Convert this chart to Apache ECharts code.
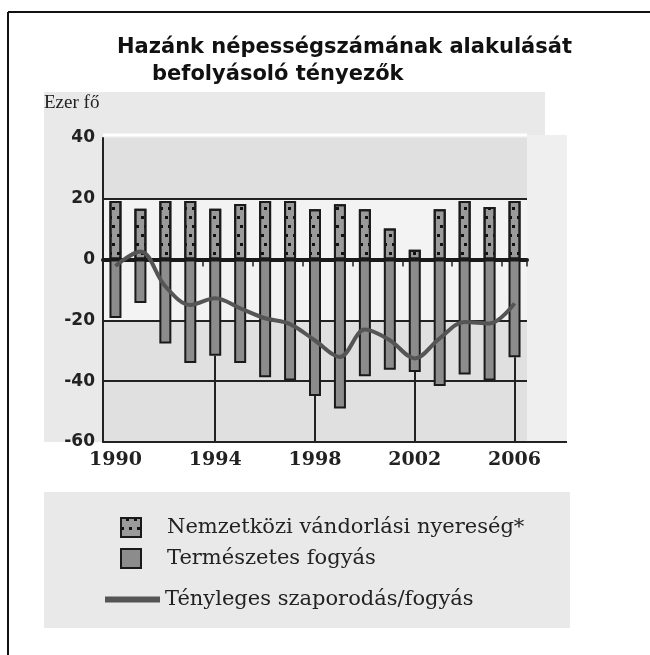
<!DOCTYPE html>
<html>
<head>
<meta charset="utf-8">
<script src="https://cdn.jsdelivr.net/npm/echarts@6/dist/echarts.min.js"></script>
<style>
html,body{margin:0;padding:0;background:#fff;}
#chart{width:650px;height:655px;}
</style>
</head>
<body>
<div id="chart"></div>
<script>
const years = ['1990','1991','1992','1993','1994','1995','1996','1997','1998','1999','2000','2001','2002','2003','2004','2005','2006'];
const migration = [19.3, 16.7, 19.3, 19.3, 16.7, 18.3, 19.3, 19.3, 16.6, 18.2, 16.6, 10.2, 3.2, 16.6, 19.3, 17.3, 19.3];
const natural = [-19.2, -14.3, -27.6, -34.0, -31.6, -34.0, -38.7, -39.8, -44.9, -49.0, -38.4, -36.2, -37.0, -41.6, -37.8, -39.8, -32.1];
const actual = [-2.1, 2.7, -8.8, -14.9, -12.7, -16.0, -19.3, -21.2, -26.6, -32.0, -23.0, -26.5, -32.5, -25.9, -20.5, -21.0, -14.4];
const yTicks = {min: -60, max: 40, interval: 20};
const names = ['Nemzetközi vándorlási nyereség*', 'Természetes fogyás', 'Tényleges szaporodás/fogyás'];
const titleLines = ['Hazánk népességszámának alakulását', 'befolyásoló tényezők'];
const unitLabel = 'Ezer fő';

const chart = echarts.init(document.getElementById('chart'), null, {renderer: 'canvas'});

const vLines = [];
years.forEach((y, i) => {
  if (i > 0 && i % 4 === 0) {
    vLines.push([{coord: [i, yTicks.min]}, {coord: [i, natural[i]]}]);
  }
});

const legendCommon = {
  orient: 'horizontal',
  selectedMode: false,
  textStyle: {fontFamily: 'DejaVu Serif', fontSize: 20, color: '#222'}
};

chart.setOption({
  backgroundColor: '#ffffff',
  animation: false,
  title: [
    {text: titleLines[0], left: 112, top: 32, textStyle: {fontFamily: 'DejaVu Sans', fontWeight: 'bold', fontSize: 21, color: '#111'}},
    {text: titleLines[1], left: 147, top: 59, textStyle: {fontFamily: 'DejaVu Sans', fontWeight: 'bold', fontSize: 21, color: '#111'}}
  ],
  graphic: [
    {type: 'line', shape: {x1: 8, y1: 12, x2: 650, y2: 12}, style: {stroke: '#111', lineWidth: 2}, z: -5},
    {type: 'line', shape: {x1: 8, y1: 12, x2: 8, y2: 655}, style: {stroke: '#111', lineWidth: 2}, z: -5},
    {type: 'rect', shape: {x: 44, y: 92, width: 501, height: 350}, style: {fill: '#e9e9e9'}, z: -10},
    {type: 'rect', shape: {x: 527, y: 135, width: 40, height: 307}, style: {fill: '#efefef'}, z: -9},
    {type: 'rect', shape: {x: 44, y: 492, width: 526, height: 136}, style: {fill: '#e9e9e9'}, z: -10},
    {type: 'line', shape: {x1: 103, y1: 135, x2: 527, y2: 135}, style: {stroke: '#ffffff', lineWidth: 3}, z: -8},
    {type: 'line', shape: {x1: 527, y1: 442, x2: 567, y2: 442}, style: {stroke: '#222', lineWidth: 2}},
    {type: 'text', left: 44, top: 94, style: {text: unitLabel, fontFamily: 'Liberation Serif', fontSize: 19, fill: '#222'}}
  ],
  legend: [
    Object.assign({}, legendCommon, {data: [{name: names[0], icon: 'rect'}], left: 115, top: 512, itemWidth: 20, itemHeight: 19, textStyle: Object.assign({}, legendCommon.textStyle, {fontSize: 21, padding: [0, 0, 0, 21]})}),
    Object.assign({}, legendCommon, {data: [{name: names[1], icon: 'rect'}], left: 115, top: 543, itemWidth: 20, itemHeight: 19, textStyle: Object.assign({}, legendCommon.textStyle, {fontSize: 21, padding: [0, 0, 0, 21]})}),
    Object.assign({}, legendCommon, {data: [{name: names[2], icon: 'rect'}], left: 100, top: 584, itemWidth: 55, itemHeight: 6, textStyle: Object.assign({}, legendCommon.textStyle, {fontSize: 21})})
  ],
  grid: {left: 103, right: 123, top: 138, bottom: 213, containLabel: false},
  xAxis: [
    {
      type: 'category', data: years, position: 'bottom',
      axisLine: {onZero: false, lineStyle: {color: '#222', width: 2}},
      axisTick: {show: false},
      axisLabel: {interval: 3, margin: 9, fontFamily: 'DejaVu Serif', fontWeight: 'bold', fontSize: 19, color: '#222'},
      splitLine: {show: false}
    },
    {
      type: 'category', data: years, position: 'top',
      axisLine: {onZero: true, lineStyle: {color: '#1a1a1a', width: 4}},
      axisTick: {show: true, inside: true, length: 7, lineStyle: {color: '#222', width: 1.5}},
      axisLabel: {show: false},
      splitLine: {show: false}
    }
  ],
  yAxis: {
    type: 'value', min: yTicks.min, max: yTicks.max, interval: yTicks.interval,
    axisLine: {show: true, lineStyle: {color: '#222', width: 2}},
    axisTick: {show: false},
    axisLabel: {margin: 8, fontFamily: 'DejaVu Sans', fontWeight: 'bold', fontSize: 17, color: '#222'},
    splitLine: {show: true, lineStyle: {color: ['rgba(0,0,0,0)', '#222', '#222', 'rgba(0,0,0,0)', '#222', 'rgba(0,0,0,0)'], width: 2}},
    splitArea: {show: true, areaStyle: {color: ['#e0e0e0', '#e0e0e0', '#f3f3f3', '#f3f3f3', '#e0e0e0']}}
  },
  series: [
    {
      name: names[0], type: 'bar', stack: 'total', data: migration, barWidth: 12,
      itemStyle: {
        color: '#9a9a9a', borderColor: '#1a1a1a', borderWidth: 2,
        decal: {symbol: 'rect', symbolSize: 1, color: '#111', dashArrayX: [[3, 5], [0, 5, 3, 0]], dashArrayY: [3, 6], rotation: 0}
      },
      z: 3
    },
    {
      name: names[1], type: 'bar', stack: 'total', data: natural, barWidth: 12,
      itemStyle: {color: '#8c8c8c', borderColor: '#1a1a1a', borderWidth: 2},
      markLine: {
        silent: true, symbol: ['none', 'none'], label: {show: false},
        lineStyle: {color: '#222', width: 2, type: 'solid'},
        data: vLines, z: 1
      },
      z: 3
    },
    {
      name: names[2], type: 'line', data: actual, smooth: 0.35,
      showSymbol: false, symbol: 'none',
      lineStyle: {color: '#555', width: 4},
      itemStyle: {color: '#555'},
      z: 5
    }
  ]
});
</script>
</body>
</html>
